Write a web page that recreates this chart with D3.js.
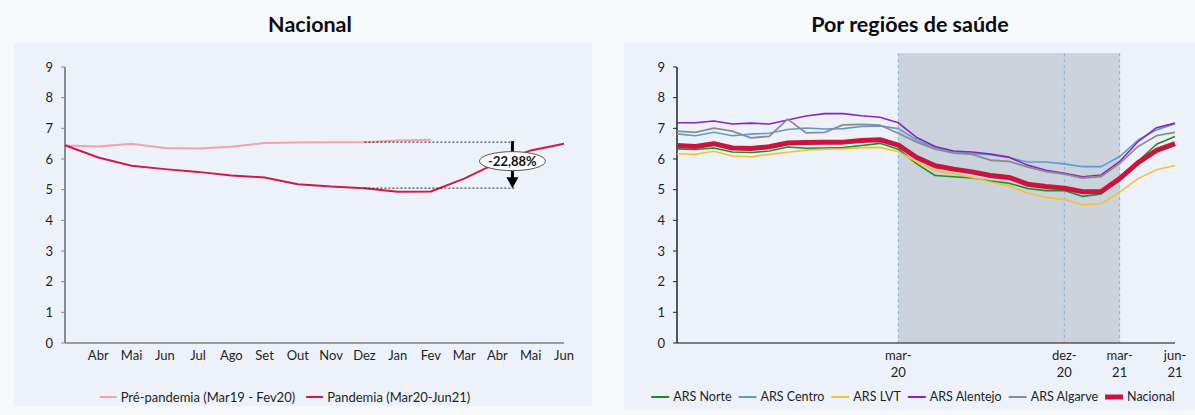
<!DOCTYPE html>
<html>
<head>
<meta charset="utf-8">
<script src="https://cdn.jsdelivr.net/npm/d3@7"></script>
<style>
  html, body { margin: 0; padding: 0; background: #f6f8fc; }
  svg { display: block; font-family: Lato, "Liberation Sans", sans-serif; }
</style>
</head>
<body>
<svg id="chart" width="1195" height="415"></svg>
<script>
// ---- Nacional: monthly values, pre-pandemic (Mar19–Fev20) and pandemic (Mar20–Jun21)
const monthLabels = ["", "Abr", "Mai", "Jun", "Jul", "Ago", "Set", "Out", "Nov", "Dez", "Jan", "Fev", "Mar", "Abr", "Mai", "Jun"];
const prePandemia = [6.44, 6.41, 6.50, 6.36, 6.34, 6.40, 6.52, 6.54, 6.55, 6.55, 6.60, 6.63];
const pandemia = [6.45, 6.05, 5.78, 5.67, 5.58, 5.46, 5.40, 5.18, 5.10, 5.05, 4.93, 4.94, 5.36, 5.88, 6.28, 6.50];
const compareIndex = 9;          // Dez: Dez19 vs Dez20
const changeLabel = "-22,88%";
const yTicks = [0, 1, 2, 3, 4, 5, 6, 7, 8, 9];

// ---- Por regiões de saúde: Mar19 .. Jun21 (28 months)
const regionTickIndex = [12, 21, 24, 27];
const regionTickLabels = [["mar-", "20"], ["dez-", "20"], ["mar-", "21"], ["jun-", "21"]];
const shadeRange = [12, 24];     // mar-20 .. mar-21
const shadeTop = 9.45;
const arsNorte    = [6.33, 6.31, 6.36, 6.23, 6.21, 6.26, 6.39, 6.35, 6.36, 6.37, 6.44, 6.51, 6.32, 5.84, 5.46, 5.42, 5.38, 5.28, 5.21, 5.04, 4.97, 4.97, 4.78, 4.86, 5.38, 5.92, 6.48, 6.73];
const arsCentro   = [6.82, 6.76, 6.87, 6.76, 6.81, 6.84, 6.96, 7.01, 6.98, 6.99, 7.06, 7.08, 6.99, 6.62, 6.37, 6.24, 6.18, 6.14, 6.05, 5.90, 5.90, 5.84, 5.75, 5.75, 6.08, 6.62, 6.95, 7.15];
const arsLVT      = [6.17, 6.15, 6.25, 6.10, 6.07, 6.15, 6.22, 6.29, 6.32, 6.33, 6.37, 6.38, 6.24, 5.90, 5.63, 5.52, 5.40, 5.25, 5.12, 4.89, 4.75, 4.68, 4.51, 4.54, 4.92, 5.36, 5.65, 5.79];
const arsAlentejo = [7.18, 7.18, 7.24, 7.14, 7.17, 7.14, 7.27, 7.40, 7.48, 7.48, 7.41, 7.36, 7.18, 6.70, 6.41, 6.26, 6.23, 6.16, 6.06, 5.80, 5.63, 5.53, 5.42, 5.48, 5.92, 6.57, 7.02, 7.17];
const arsAlgarve  = [6.91, 6.87, 7.01, 6.91, 6.69, 6.74, 7.30, 6.85, 6.87, 7.11, 7.13, 7.10, 6.84, 6.55, 6.32, 6.19, 6.15, 5.96, 5.92, 5.74, 5.59, 5.51, 5.38, 5.43, 5.86, 6.41, 6.76, 6.87];
const nacional = prePandemia.concat(pandemia);

const regionNames = ["ARS Norte", "ARS Centro", "ARS LVT", "ARS Alentejo", "ARS Algarve", "Nacional"];
const regionSeries = [arsNorte, arsCentro, arsLVT, arsAlentejo, arsAlgarve, nacional];
const regionColors = ["#1f8c1f", "#5b9bd5", "#f2c232", "#8b22c4", "#8c8c8c", "#c8143f"];
const regionWidths = [1.6, 1.6, 1.6, 1.6, 1.8, 5];

const svg = d3.select("#chart");
const textColor = "#1e1e1e";

// panels and titles
svg.append("rect").attr("x", 14).attr("y", 43).attr("width", 578).attr("height", 363).attr("fill", "#edf2fa");
svg.append("rect").attr("x", 624).attr("y", 43).attr("width", 571).attr("height", 367).attr("fill", "#edf2fa");
svg.append("text").attr("x", 310).attr("y", 32).attr("text-anchor", "middle")
  .attr("font-size", 21.5).attr("font-weight", "bold").attr("fill", "#0c0c0c").text("Nacional");
svg.append("text").attr("x", 910).attr("y", 32).attr("text-anchor", "middle")
  .attr("font-size", 21.5).attr("font-weight", "bold").attr("fill", "#0c0c0c").text("Por regiões de saúde");

function yAxis(g, y, x0, color, width) {
  g.append("line").attr("x1", x0).attr("x2", x0).attr("y1", y(0)).attr("y2", y(9))
    .attr("stroke", color).attr("stroke-width", width);
  yTicks.forEach(t => {
    g.append("line").attr("x1", x0 - 4).attr("x2", x0).attr("y1", y(t)).attr("y2", y(t))
      .attr("stroke", color).attr("stroke-width", 1);
    g.append("text").attr("x", x0 - 12).attr("y", y(t)).attr("dy", "0.35em")
      .attr("text-anchor", "end").attr("font-size", 13).attr("fill", textColor).text(t);
  });
}

function legend(g, items, cx, cy, swatchW, gap, fontSize) {
  const grp = g.append("g");
  let x = 0;
  items.forEach(it => {
    grp.append("line").attr("x1", x).attr("x2", x + swatchW).attr("y1", cy).attr("y2", cy)
      .attr("stroke", it.color).attr("stroke-width", it.width);
    const t = grp.append("text").attr("x", x + swatchW + 4).attr("y", cy).attr("dy", "0.35em")
      .attr("font-size", fontSize).attr("fill", textColor).text(it.name);
    x += swatchW + 4 + t.node().getComputedTextLength() + gap;
  });
  const total = x - gap;
  grp.attr("transform", `translate(${cx - total / 2},0)`);
}

// ================= Nacional =================
{
  const g = svg.append("g");
  const x = d3.scaleLinear().domain([0, monthLabels.length - 1]).range([65, 564]);
  const y = d3.scaleLinear().domain([0, 9]).range([343, 67]);

  g.append("line").attr("x1", x(0)).attr("x2", x(monthLabels.length - 1)).attr("y1", y(0)).attr("y2", y(0))
    .attr("stroke", "#7f7f7f").attr("stroke-width", 1.5);
  yAxis(g, y, x(0), "#8a8a8a", 2);

  monthLabels.forEach((m, i) => {
    g.append("text").attr("x", x(i)).attr("y", 355).attr("dy", "0.35em").attr("text-anchor", "middle")
      .attr("font-size", 13).attr("fill", textColor).text(m);
  });

  const line = d3.line().x((d, i) => x(i)).y(d => y(d));
  g.append("path").datum(prePandemia).attr("d", line).attr("fill", "none")
    .attr("stroke", "#f2a2aa").attr("stroke-width", 2);
  g.append("path").datum(pandemia).attr("d", line).attr("fill", "none")
    .attr("stroke", "#d1174b").attr("stroke-width", 2);

  // Dez19 vs Dez20 comparison
  const arrowIdx = 13.45;
  const yTop = y(prePandemia[compareIndex]);
  const yBot = y(pandemia[compareIndex]);
  [yTop, yBot].forEach(yy => {
    g.append("line").attr("x1", x(compareIndex)).attr("x2", x(arrowIdx) + 4).attr("y1", yy).attr("y2", yy)
      .attr("stroke", "#222").attr("stroke-width", 1).attr("stroke-dasharray", "2,2");
  });
  const ax = x(arrowIdx);
  g.append("line").attr("x1", ax).attr("x2", ax).attr("y1", yTop - 1).attr("y2", yBot - 9)
    .attr("stroke", "#000").attr("stroke-width", 3);
  g.append("path").attr("d", `M${ax - 6},${yBot - 11} L${ax + 6},${yBot - 11} L${ax},${yBot} Z`).attr("fill", "#000");
  const ey = (yTop + yBot) / 2 - 4;
  g.append("ellipse").attr("cx", ax).attr("cy", ey).attr("rx", 33).attr("ry", 9.5)
    .attr("fill", "#fff").attr("stroke", "#555").attr("stroke-width", 1);
  g.append("text").attr("x", ax).attr("y", ey).attr("dy", "0.35em").attr("text-anchor", "middle")
    .attr("font-size", 13).attr("font-weight", "bold").attr("fill", "#111").text(changeLabel);

  legend(g, [
    { name: "Pré-pandemia (Mar19 - Fev20)", color: "#f2a2aa", width: 2 },
    { name: "Pandemia (Mar20-Jun21)", color: "#d1174b", width: 2 }
  ], 285, 397, 17, 11, 13);
}

// ================= Por regiões de saúde =================
{
  const g = svg.append("g");
  const x = d3.scaleLinear().domain([0, nacional.length - 1]).range([677, 1175]);
  const y = d3.scaleLinear().domain([0, 9]).range([343, 67]);

  // pandemic period shading
  g.append("rect").attr("x", x(shadeRange[0])).attr("y", y(shadeTop))
    .attr("width", x(shadeRange[1]) - x(shadeRange[0])).attr("height", y(0) - y(shadeTop))
    .attr("fill", "#cbd2db");
  [shadeRange[0], regionTickIndex[1], shadeRange[1]].forEach(i => {
    g.append("line").attr("x1", x(i)).attr("x2", x(i)).attr("y1", y(shadeTop)).attr("y2", y(0))
      .attr("stroke", "#7fb1e3").attr("stroke-width", 1).attr("stroke-dasharray", "3,3");
  });

  g.append("line").attr("x1", x(0)).attr("x2", x(nacional.length - 1)).attr("y1", y(0)).attr("y2", y(0))
    .attr("stroke", "#555").attr("stroke-width", 1.5);
  yAxis(g, y, x(0), "#222", 1.5);

  regionTickIndex.forEach((i, k) => {
    const t = g.append("text").attr("text-anchor", "middle").attr("font-size", 13).attr("fill", textColor);
    regionTickLabels[k].forEach((s, j) => {
      t.append("tspan").attr("x", x(i)).attr("y", 355 + j * 17).attr("dy", "0.35em").text(s);
    });
  });

  const line = d3.line().x((d, i) => x(i)).y(d => y(d));
  regionSeries.forEach((s, k) => {
    g.append("path").datum(s).attr("d", line).attr("fill", "none")
      .attr("stroke", regionColors[k]).attr("stroke-width", regionWidths[k])
      .attr("stroke-linejoin", "round");
  });

  legend(g, regionNames.map((n, k) => ({ name: n, color: regionColors[k], width: k === 5 ? 5 : 2 })),
    913, 397, 18, 7, 12.5);
}
</script>
</body>
</html>
